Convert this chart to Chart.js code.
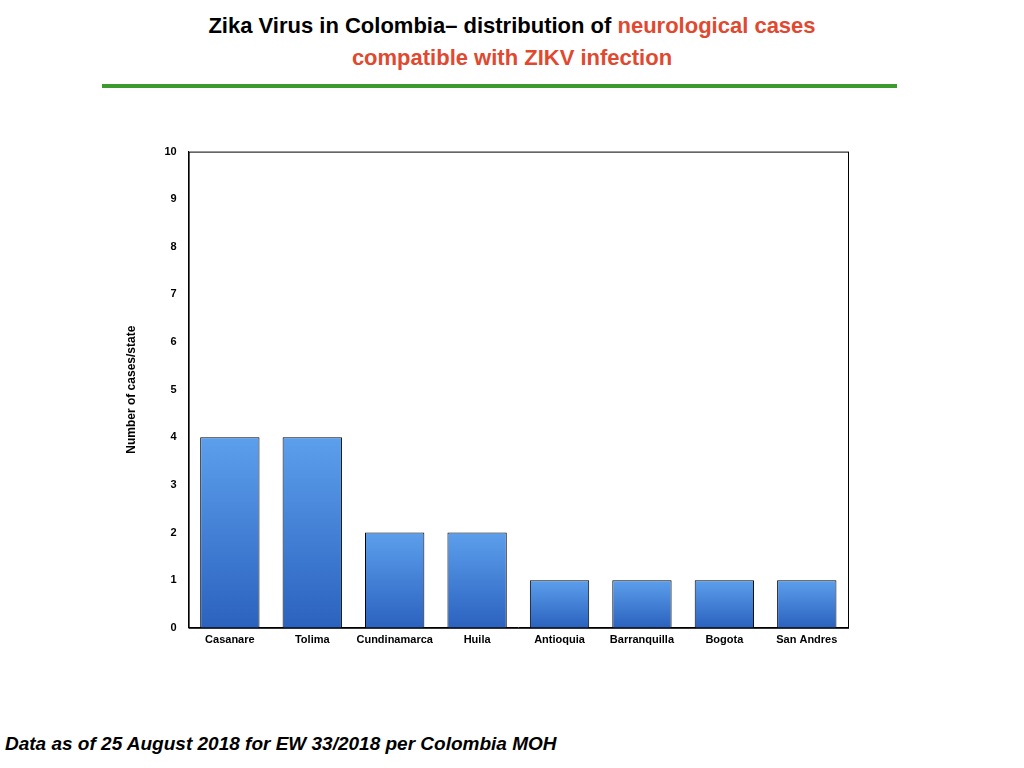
<!DOCTYPE html>
<html><head><meta charset="utf-8">
<script src="https://cdn.jsdelivr.net/npm/chart.js@4"></script>
<style>
body{margin:0;width:1024px;height:768px;background:#fff;font-family:"Liberation Sans",Arial,sans-serif;position:relative;overflow:hidden}
#t{position:absolute;top:10px;left:0;width:1024px;text-align:center;font-weight:bold;font-size:22px;line-height:32px;color:#000}
.r{color:#e0492f}
#line{position:absolute;left:102px;top:84px;width:795px;height:4px;background:#3c9a2f}
#f{position:absolute;left:5px;top:733px;font-weight:bold;font-style:italic;font-size:19px}
#c{position:absolute;left:120px;top:133px;width:740px;height:520px}
</style></head><body>
<div id="t">Zika Virus in Colombia&#8211; distribution of <span class="r">neurological cases</span><br><span class="r">compatible with ZIKV infection</span></div>
<div id="line"></div>
<div id="c"><canvas id="cv"></canvas></div>
<div id="f">Data as of 25 August 2018 for EW 33/2018 per Colombia MOH</div>
<script>
const categories=["Casanare","Tolima","Cundinamarca","Huila","Antioquia","Barranquilla","Bogota","San Andres"];
const cases=[4,4,2,2,1,1,1,1];
const yTicks=[0,1,2,3,4,5,6,7,8,9,10];
Chart.defaults.font.family='"Liberation Sans",Arial,sans-serif';
Chart.defaults.color='#000';
new Chart(document.getElementById('cv'),{
 type:'bar',
 data:{labels:categories,datasets:[{data:cases,borderColor:'#000',borderWidth:1,barPercentage:0.72,categoryPercentage:1,
  backgroundColor:(c)=>{const ch=c.chart;if(!ch.chartArea||c.dataIndex===undefined)return '#3c7ad6';
   const y=ch.scales.y;const top=y.getPixelForValue(c.raw),bot=y.getPixelForValue(0);
   if(!isFinite(top)||top===bot)return '#3c7ad6';
   const g=ch.ctx.createLinearGradient(0,top,0,bot);g.addColorStop(0,'#5c9fec');g.addColorStop(1,'#2b62bf');return g;}}]},
 options:{responsive:true,maintainAspectRatio:false,animation:false,
  layout:{padding:{top:4,right:12}},
  plugins:{legend:{display:false},tooltip:{enabled:false}},
  scales:{
   x:{grid:{display:false,drawTicks:false},border:{color:'#000'},ticks:{font:{size:11,weight:'bold'},padding:6,maxRotation:0,autoSkip:false}},
   y:{min:0,max:10,afterBuildTicks:(s)=>{s.ticks=yTicks.map(v=>({value:v}));},grid:{display:false,drawTicks:false},border:{color:'#000'},
      ticks:{font:{size:11,weight:'bold'},padding:12},
      title:{display:true,text:'Number of cases/state',font:{size:12,weight:'bold'},padding:{bottom:14}}}
  }},
 plugins:[{id:'box',afterDraw(ch){const a=ch.chartArea,x=ch.ctx;x.save();x.strokeStyle='#000';x.lineWidth=1;x.strokeRect(a.left+0.5,a.top+0.5,a.right-a.left,a.bottom-a.top);x.restore();}}]
});
</script></body></html>
